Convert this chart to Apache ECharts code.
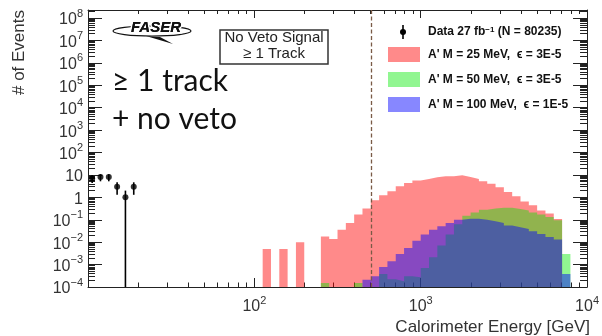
<!DOCTYPE html>
<html><head><meta charset="utf-8">
<script src="https://cdn.jsdelivr.net/npm/echarts@6/dist/echarts.min.js"></script>
<style>html,body{margin:0;padding:0;background:#fff}#c{width:602px;height:336px}</style>
</head><body><div id="c"></div>
<script>
// ---------------- data ----------------
const E_MIN_GEV = 10, E_MAX_GEV = 10000, N_BINS = 60;   // log-uniform binning
const yMinExp = -4, yMaxExp = 8.36;                       // log10(# of events) range
const xTickExps = [1, 2, 3, 4];
const xLabelExps = [2, 3, 4];
const yTickExps = [-4, -3, -2, -1, 0, 1, 2, 3, 4, 5, 6, 7, 8];
const minorFactors = [2, 3, 4, 5, 6, 7, 8, 9];

// signal histograms, bins starting at bin index 21 (E = 10^2.05 GeV)
const firstSignalBin = 21;
const sigM25 = [0.005, 0, 0.005, 0, 0.01, 0, 0, 0.018, 0.014, 0.036, 0.072, 0.17, 0.32, 0.74,
  1.23, 1.86, 3.1, 4.4, 5.6, 6.6, 7.9, 8.7, 8.7, 9.7, 8.1, 6.6, 5.2, 4.0, 2.8, 1.74, 1.12,
  0.66, 0.45, 0.26, 0.19, 0.107, 0];
const sigM50 = [0, 0, 0, 0, 0, 0, 0, 1.5e-4, 0, 0, 0, 1.5e-4, 0, 0, 3.8e-4, 2.2e-4, 1.8e-4,
  3.0e-4, 2.7e-4, 7.1e-4, 2.1e-3, 7.2e-3, 0.022, 0.063, 0.15, 0.21, 0.28, 0.32, 0.34, 0.34,
  0.30, 0.26, 0.21, 0.17, 0.133, 0.095, 0.003];
const sigM100 = [0, 0, 0, 0, 0, 0, 0, 0, 0, 0, 0, 0, 2.1e-4, 3.0e-4, 7.8e-4, 1.4e-3, 3.0e-3,
  5.5e-3, 0.0117, 0.022, 0.036, 0.051, 0.072, 0.10, 0.11, 0.11, 0.10, 0.085, 0.072, 0.056,
  0.046, 0.039, 0.031, 0.023, 0.017, 0.013, 3.8e-4];

// data points
const dataBinIdx = [0, 1, 2, 3, 4, 5];
const dataCounts = [7, 8, 8, 3, 1, 3];
const dataErr = [2.6, 2.8, 2.8, 1.7, 1.0, 1.7];
const cutEnergyGeV = 500;

const legendNames = ['A\' M = 25 MeV,  \u03f5 = 3E-5', 'A\' M = 50 MeV,  \u03f5 = 3E-5', 'A\' M = 100 MeV,  \u03f5 = 1E-5'];
const fillColors = ['rgba(255,0,0,0.46)', 'rgba(0,235,0,0.43)', 'rgba(0,0,255,0.47)'];

// ---------------- helpers ----------------
const F = 'Liberation Sans, Arial, sans-serif';
const lx0 = Math.log10(E_MIN_GEV), lx1 = Math.log10(E_MAX_GEV);
const logEdge = i => lx0 + i * (lx1 - lx0) / N_BINS;
const toY = v => v > 0 ? Math.log10(v) : yMinExp;

function minorTicks(lo, hi) {
  const out = [];
  for (let n = Math.floor(lo); n < hi; n++) for (const k of minorFactors) {
    const v = n + Math.log10(k); if (v > lo && v < hi) out.push(v);
  }
  return out;
}
function powLabel(v) {
  const n = Math.round(v);
  if (n === 0) return '{b|1}';
  if (n === 1) return '{b|10}';
  return '{b|10}{s|' + (n < 0 ? '\u2212' + (-n) : n) + '}';
}
const rich = {
  b: { fontFamily: F, fontSize: 16, color: '#333', lineHeight: 20, verticalAlign: 'bottom' },
  s: { fontFamily: F, fontSize: 11, color: '#333', lineHeight: 11, verticalAlign: 'top' }
};

function histSeries(vals, color, name) {
  const pts = vals.map((v, k) => [logEdge(firstSignalBin + k), toY(v)]);
  pts.push([logEdge(firstSignalBin + vals.length), toY(vals[vals.length - 1])]);
  return { type: 'line', name, step: 'end', data: pts, symbol: 'none', showSymbol: false,
    lineStyle: { width: 0 }, areaStyle: { color, opacity: 1, origin: 'start' }, silent: true, z: 2 };
}

function axis(dim, pos, major, len, withLabels) {
  const [mn, mx] = dim === 'x' ? [lx0, lx1] : [yMinExp, yMaxExp];
  const ticks = major ? (dim === 'x' ? xTickExps : yTickExps) : minorTicks(mn, mx);
  const a = {
    type: 'value', position: pos, min: mn, max: mx, gridIndex: 0,
    splitLine: { show: false },
    axisLine: { show: major, onZero: false, lineStyle: { color: '#222', width: 1 } },
    axisTick: { show: true, inside: true, length: len, customValues: ticks, lineStyle: { color: '#222', width: 1 } },
    axisLabel: { show: false }
  };
  if (withLabels) {
    a.axisLabel = { show: true, customValues: dim === 'x' ? xLabelExps : yTickExps, formatter: powLabel, rich, margin: dim === 'x' ? 8 : 5 };
  }
  return a;
}

const dataPts = dataBinIdx.map((b, i) => [(logEdge(b) + logEdge(b + 1)) / 2, Math.log10(dataCounts[i])]);
const errPts = dataBinIdx.map((b, i) => [dataPts[i][0],
  Math.max(yMinExp, toY(dataCounts[i] - dataErr[i])), Math.log10(dataCounts[i] + dataErr[i])]);

const chart = echarts.init(document.getElementById('c'), null, { renderer: 'canvas' });
chart.setOption({
  animation: false,
  backgroundColor: '#fff',
  grid: { left: 88, right: 11, top: 10, bottom: 49 },
  xAxis: [axis('x', 'bottom', true, 9, true), axis('x', 'bottom', false, 4.5, false),
          axis('x', 'top', true, 8, false), axis('x', 'top', false, 4, false)],
  yAxis: [axis('y', 'left', true, 14, true), axis('y', 'left', false, 7, false),
          axis('y', 'right', true, 14, false), axis('y', 'right', false, 7, false)],
  series: [
    histSeries(sigM25, fillColors[0], legendNames[0]),
    histSeries(sigM50, fillColors[1], legendNames[1]),
    histSeries(sigM100, fillColors[2], legendNames[2]),
    { type: 'custom', z: 5, silent: true, data: errPts,
      renderItem: (p, api) => {
        const a = api.coord([api.value(0), api.value(1)]);
        const b = api.coord([api.value(0), api.value(2)]);
        return { type: 'line', shape: { x1: a[0], y1: a[1], x2: b[0], y2: b[1] }, style: { stroke: '#000', lineWidth: 1.6 } };
      } },
    { type: 'scatter', z: 6, silent: true, data: dataPts, symbol: 'circle', symbolSize: 6,
      itemStyle: { color: '#000' },
      markLine: { silent: true, symbol: ['none', 'none'], label: { show: false },
        lineStyle: { color: '#7a5a46', type: [4, 2.5], width: 1.3 },
        data: [{ xAxis: Math.log10(cutEnergyGeV) }] } }
  ],
  graphic: [
    // FASER logo
    { type: 'ellipse', shape: { cx: 152, cy: 31, rx: 39, ry: 5 }, style: { fill: 'none', stroke: '#111', lineWidth: 1.2 }, silent: true },
    { type: 'polygon', shape: { points: [[146, 36], [173, 44], [160, 37]] }, style: { fill: '#111' }, silent: true },
    { type: 'text', x: 156, y: 28, silent: true, style: { text: 'FASER', font: 'italic bold 15px ' + F, fill: '#111', stroke: '#fff', lineWidth: 3, align: 'center', verticalAlign: 'middle' } },
    { type: 'text', x: 156, y: 28, silent: true, style: { text: 'FASER', font: 'italic bold 15px ' + F, fill: '#111', align: 'center', verticalAlign: 'middle' } },
    // selection box
    { type: 'rect', shape: { x: 220, y: 30, width: 108, height: 34 }, style: { fill: 'none', stroke: '#333', lineWidth: 1.5 }, silent: true },
    { type: 'text', x: 274, y: 38, silent: true, style: { text: 'No Veto Signal', font: '15px ' + F, fill: '#222', align: 'center', verticalAlign: 'middle' } },
    { type: 'text', x: 274, y: 54, silent: true, style: { text: '\u2265 1 Track', font: '15px ' + F, fill: '#222', align: 'center', verticalAlign: 'middle' } },
    // big annotation
    { type: 'text', x: 112, y: 81, silent: true, style: { text: '\u2265 1 track', font: '30px Lato, sans-serif', fill: '#111', align: 'left', verticalAlign: 'middle' } },
    { type: 'text', x: 112, y: 119, silent: true, style: { text: '+ no veto', font: '30px Lato, sans-serif', fill: '#111', align: 'left', verticalAlign: 'middle' } },
    // legend
    { type: 'line', shape: { x1: 403, y1: 25, x2: 403, y2: 39 }, style: { stroke: '#000', lineWidth: 1.6 }, silent: true },
    { type: 'circle', shape: { cx: 403, cy: 32, r: 3 }, style: { fill: '#000' }, silent: true },
    { type: 'text', x: 428, y: 32, silent: true, style: { text: 'Data 27 fb{s|\u22121} (N = 80235)', font: 'bold 12px ' + F, fill: '#111', align: 'left', verticalAlign: 'middle',
      rich: { s: { font: 'bold 8px ' + F, fill: '#111', verticalAlign: 'top', lineHeight: 8 } } } },
    { type: 'rect', shape: { x: 388, y: 47, width: 32, height: 15 }, style: { fill: fillColors[0] }, silent: true },
    { type: 'text', x: 428, y: 55, silent: true, style: { text: legendNames[0], font: 'bold 12px ' + F, fill: '#111', align: 'left', verticalAlign: 'middle' } },
    { type: 'rect', shape: { x: 388, y: 72, width: 32, height: 15 }, style: { fill: fillColors[1] }, silent: true },
    { type: 'text', x: 428, y: 80, silent: true, style: { text: legendNames[1], font: 'bold 12px ' + F, fill: '#111', align: 'left', verticalAlign: 'middle' } },
    { type: 'rect', shape: { x: 388, y: 97, width: 32, height: 15 }, style: { fill: fillColors[2] }, silent: true },
    { type: 'text', x: 428, y: 105, silent: true, style: { text: legendNames[2], font: 'bold 12px ' + F, fill: '#111', align: 'left', verticalAlign: 'middle' } },
    // axis titles
    { type: 'text', x: 19, y: 10, rotation: Math.PI / 2, silent: true, style: { text: '# of Events', font: '17px ' + F, fill: '#333', align: 'right', verticalAlign: 'middle' } },
    { type: 'text', x: 590, y: 327, silent: true, style: { text: 'Calorimeter Energy [GeV]', font: '17px ' + F, fill: '#333', align: 'right', verticalAlign: 'middle' } }
  ]
});
</script></body></html>
